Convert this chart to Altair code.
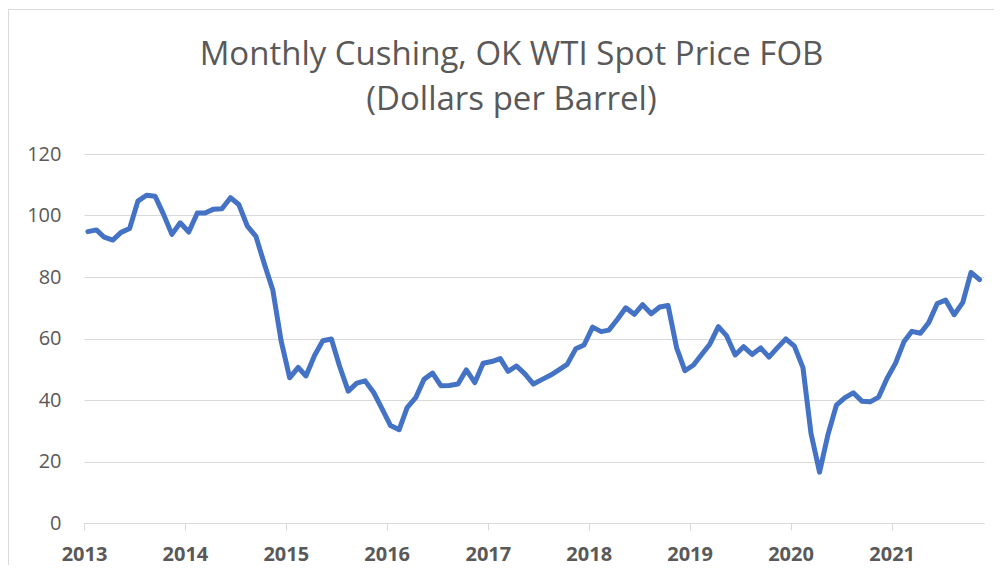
import altair as alt
import pandas as pd

# Monthly WTI spot price, Jan 2013 - Nov 2021 (dollars per barrel)
years = [2013, 2014, 2015, 2016, 2017, 2018, 2019, 2020, 2021]
p2013 = [94.76, 95.31, 92.94, 92.02, 94.51, 95.77, 104.67, 106.57, 106.29, 100.54, 93.86, 97.63]
p2014 = [94.62, 100.82, 100.80, 102.07, 102.18, 105.79, 103.59, 96.54, 93.21, 84.40, 75.79, 59.29]
p2015 = [47.22, 50.58, 47.82, 54.45, 59.27, 59.82, 50.90, 42.87, 45.48, 46.22, 42.44, 37.19]
p2016 = [31.68, 30.32, 37.55, 40.75, 46.71, 48.76, 44.65, 44.72, 45.18, 49.78, 45.66, 51.97]
p2017 = [52.50, 53.47, 49.33, 51.06, 48.48, 45.18, 46.63, 48.04, 49.82, 51.58, 56.64, 57.88]
p2018 = [63.70, 62.23, 62.73, 66.25, 69.98, 67.87, 70.98, 68.06, 70.23, 70.75, 56.96, 49.52]
p2019 = [51.38, 54.95, 58.15, 63.86, 60.83, 54.66, 57.35, 54.81, 56.95, 53.96, 57.03, 59.88]
p2020 = [57.52, 50.54, 29.21, 16.55, 28.56, 38.31, 40.71, 42.34, 39.63, 39.40, 40.94, 47.02]
p2021 = [52.00, 59.04, 62.33, 61.72, 65.17, 71.38, 72.49, 67.73, 71.65, 81.48, 79.15]
y_ticks = [0, 20, 40, 60, 80, 100, 120]
title_lines = ["Monthly Cushing, OK WTI Spot Price FOB", "(Dollars per Barrel)"]

series = [p2013, p2014, p2015, p2016, p2017, p2018, p2019, p2020, p2021]
rows = []
for yr, vals in zip(years, series):
    for m, v in enumerate(vals, start=1):
        rows.append({"date": f"{yr}-{m:02d}-15", "price": v})
df = pd.DataFrame(rows)

GRID = "#D9D9D9"
TEXT = "#595959"
FONT = "Open Sans"

x_enc = alt.X(
    "date:T",
    scale=alt.Scale(
        type="utc",
        domain=[alt.DateTime(year=2013, month=1, date=1, utc=True),
                alt.DateTime(year=2021, month=12, date=1, utc=True)],
    ),
    axis=alt.Axis(
        title=None,
        values=[alt.DateTime(year=y, month=1, date=1, utc=True) for y in years],
        labelExpr="utcFormat(datum.value, '%Y')",
        grid=False,
        domainColor=GRID,
        domainWidth=1,
        tickColor=GRID,
        tickSize=7,
        labelFont=FONT,
        labelFontSize=20,
        labelFontWeight="bold",
        labelColor=TEXT,
        labelPadding=14,
        labelFlush=False,
    ),
)
y_enc = alt.Y(
    "price:Q",
    scale=alt.Scale(domain=[0, 120], nice=False),
    axis=alt.Axis(
        title=None,
        values=y_ticks,
        domain=False,
        ticks=False,
        grid=True,
        gridColor=GRID,
        gridWidth=1,
        labelFont=FONT,
        labelFontSize=20,
        labelColor=TEXT,
        labelPadding=23,
    ),
)

line = alt.Chart(df).mark_line(
    color="#4472C4", strokeWidth=5, strokeCap="round", strokeJoin="round"
).encode(x=x_enc, y=y_enc)

one = pd.DataFrame({"k": [0]})
border_top = alt.Chart(one).mark_rule(color=GRID, strokeWidth=1).encode(
    x=alt.value(-75.5), x2=alt.value(920), y=alt.value(-144.5)
)
border_left = alt.Chart(one).mark_rule(color=GRID, strokeWidth=1).encode(
    x=alt.value(-75.5), y=alt.value(-144.5), y2=alt.value(420)
)

t1 = alt.Chart(pd.DataFrame({"t": [title_lines[0]]})).mark_text(
    font=FONT, fontSize=33, color=TEXT, align="center", baseline="alphabetic"
).encode(text="t:N", x=alt.value(427.5), y=alt.value(-89))
t2 = alt.Chart(pd.DataFrame({"t": [title_lines[1]]})).mark_text(
    font=FONT, fontSize=33, color=TEXT, align="center", baseline="alphabetic"
).encode(text="t:N", x=alt.value(427.5), y=alt.value(-44))

chart = alt.layer(border_top, border_left, line, t1, t2).properties(
    width=900,
    height=369,
    autosize=alt.AutoSizeParams(type="none"),
    padding={"left": 76, "top": 146, "right": 10, "bottom": 42},
    background="white",
).configure_view(stroke=None)

chart.save("out.html", embed_options={"renderer": "svg", "actions": False})
